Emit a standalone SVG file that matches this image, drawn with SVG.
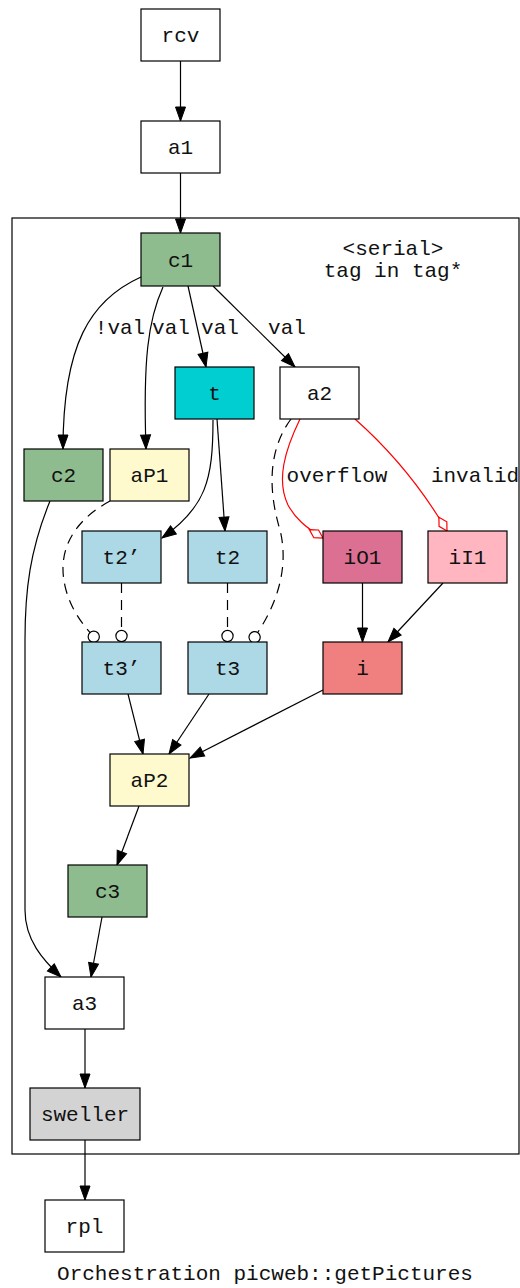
<svg xmlns="http://www.w3.org/2000/svg" width="520" height="1288" viewBox="0 0 520 1288">
<style>
text{font-family:"Liberation Mono","DejaVu Sans Mono",monospace;font-size:21px;fill:#111;text-anchor:middle}
.n{stroke:#000;stroke-width:1.2}
.e{fill:none;stroke:#000;stroke-width:1.2}
.d{stroke-dasharray:10,7}
.r{stroke:#f00}
</style>
<defs>
<marker id="ar" markerUnits="userSpaceOnUse" markerWidth="15" markerHeight="11" refX="14" refY="5" orient="auto" overflow="visible">
<path d="M0,0 L14,5 L0,10 z" fill="#000" stroke="#000" stroke-width="1"/>
</marker>
<marker id="od" markerUnits="userSpaceOnUse" markerWidth="13" markerHeight="13" refX="12" refY="6" orient="auto" overflow="visible">
<circle cx="6" cy="6" r="5.6" fill="#fff" stroke="#000" stroke-width="1.2"/>
</marker>
<marker id="dm" markerUnits="userSpaceOnUse" markerWidth="18" markerHeight="10" refX="16" refY="4.5" orient="auto" overflow="visible">
<path d="M0,4.5 L8,0 L16,4.5 L8,9 z" fill="#fff" stroke="#f00" stroke-width="1.2"/>
</marker>
</defs>
<rect width="520" height="1288" fill="#fff"/>
<g id="cluster">
<rect x="12" y="218" width="507" height="936" fill="none" stroke="#000" stroke-width="1.2"/>
<text x="393" y="255">&lt;serial&gt;</text>
<text x="393" y="277">tag in tag*</text>
</g>
<g id="edges">
<path class="e" d="M180.5,61 L180.5,121" marker-end="url(#ar)"/>
<path class="e" d="M180.5,173 L180.5,233" marker-end="url(#ar)"/>
<path class="e" d="M141,277 C90,300 63,345 63,449" marker-end="url(#ar)"/>
<path class="e" d="M163,287 C148,320 143,360 146,449" marker-end="url(#ar)"/>
<path class="e" d="M188,286 L206,367" marker-end="url(#ar)"/>
<path class="e" d="M213,286 L295,367" marker-end="url(#ar)"/>
<path class="e" d="M213,420 C213,480 206,507 162,538" marker-end="url(#ar)"/>
<path class="e" d="M217,419 L225,531" marker-end="url(#ar)"/>
<path class="e d" d="M110,501 C75,520 55,550 66,590 C72,612 85,628 98,641" marker-end="url(#od)"/>
<path class="e d" d="M121.5,583 L121.5,642" marker-end="url(#od)"/>
<path class="e d" d="M227.5,583 L227.5,642" marker-end="url(#od)"/>
<path class="e d" d="M291,419 C268,450 268,490 280,530 C290,570 275,610 251,642" marker-end="url(#od)"/>
<path class="e r" d="M300,419 C285,450 276,480 288,505 C295,518 305,527 323,538" marker-end="url(#dm)"/>
<path class="e r" d="M355,419 C390,450 420,485 447,531" marker-end="url(#dm)"/>
<path class="e" d="M362.5,583 L362.5,642" marker-end="url(#ar)"/>
<path class="e" d="M443,583 L388,642" marker-end="url(#ar)"/>
<path class="e" d="M128,694 L143,754" marker-end="url(#ar)"/>
<path class="e" d="M209,694 L169,754" marker-end="url(#ar)"/>
<path class="e" d="M323,690 L190,758" marker-end="url(#ar)"/>
<path class="e" d="M139,806 L117,865" marker-end="url(#ar)"/>
<path class="e" d="M50,501 C30,550 25,590 25,640 L25,910 C25,940 43,960 61,977" marker-end="url(#ar)"/>
<path class="e" d="M102,917 L91,977" marker-end="url(#ar)"/>
<path class="e" d="M85,1029 L85,1088" marker-end="url(#ar)"/>
<path class="e" d="M85,1140 L85,1200" marker-end="url(#ar)"/>
<text x="120" y="334">!val</text>
<text x="171" y="334">val</text>
<text x="220" y="334">val</text>
<text x="287" y="334">val</text>
<text x="337" y="482">overflow</text>
<text x="475" y="482">invalid</text>
</g>
<g id="rcv"><rect class="n" x="141" y="9" width="79" height="52" fill="#fff"/><text x="180.5" y="42">rcv</text></g>
<g id="a1"><rect class="n" x="141" y="121" width="79" height="52" fill="#fff"/><text x="180.5" y="154">a1</text></g>
<g id="c1"><rect class="n" x="141" y="233" width="79" height="53" fill="#8fbc8f"/><text x="180.5" y="267">c1</text></g>
<g id="t"><rect class="n" x="175" y="367" width="79" height="52" fill="#00ced1"/><text x="214.5" y="400">t</text></g>
<g id="a2"><rect class="n" x="280" y="367" width="79" height="52" fill="#fff"/><text x="319.5" y="400">a2</text></g>
<g id="c2"><rect class="n" x="24" y="449" width="79" height="52" fill="#8fbc8f"/><text x="63.5" y="482">c2</text></g>
<g id="aP1"><rect class="n" x="110" y="449" width="79" height="52" fill="#fffacd"/><text x="149.5" y="482">aP1</text></g>
<g id="t2p"><rect class="n" x="82" y="531" width="79" height="52" fill="#add8e6"/><text x="121.5" y="564">t2’</text></g>
<g id="t2"><rect class="n" x="188" y="531" width="79" height="52" fill="#add8e6"/><text x="227.5" y="564">t2</text></g>
<g id="iO1"><rect class="n" x="323" y="531" width="79" height="52" fill="#db7093"/><text x="362.5" y="564">iO1</text></g>
<g id="iI1"><rect class="n" x="428" y="531" width="79" height="52" fill="#ffb6c1"/><text x="467.5" y="564">iI1</text></g>
<g id="t3p"><rect class="n" x="82" y="642" width="79" height="52" fill="#add8e6"/><text x="121.5" y="675">t3’</text></g>
<g id="t3"><rect class="n" x="188" y="642" width="79" height="52" fill="#add8e6"/><text x="227.5" y="675">t3</text></g>
<g id="i"><rect class="n" x="323" y="642" width="79" height="52" fill="#f08080"/><text x="362.5" y="675">i</text></g>
<g id="aP2"><rect class="n" x="110" y="754" width="79" height="52" fill="#fffacd"/><text x="149.5" y="787">aP2</text></g>
<g id="c3"><rect class="n" x="68" y="865" width="79" height="52" fill="#8fbc8f"/><text x="107.5" y="898">c3</text></g>
<g id="a3"><rect class="n" x="45" y="977" width="79" height="52" fill="#fff"/><text x="84.5" y="1010">a3</text></g>
<g id="sweller"><rect class="n" x="30" y="1088" width="110" height="52" fill="#d3d3d3"/><text x="85" y="1121">sweller</text></g>
<g id="rpl"><rect class="n" x="45" y="1200" width="79" height="52" fill="#fff"/><text x="84.5" y="1233">rpl</text></g>
<g id="title"><text x="265" y="1280">Orchestration picweb::getPictures</text></g>
</svg>
